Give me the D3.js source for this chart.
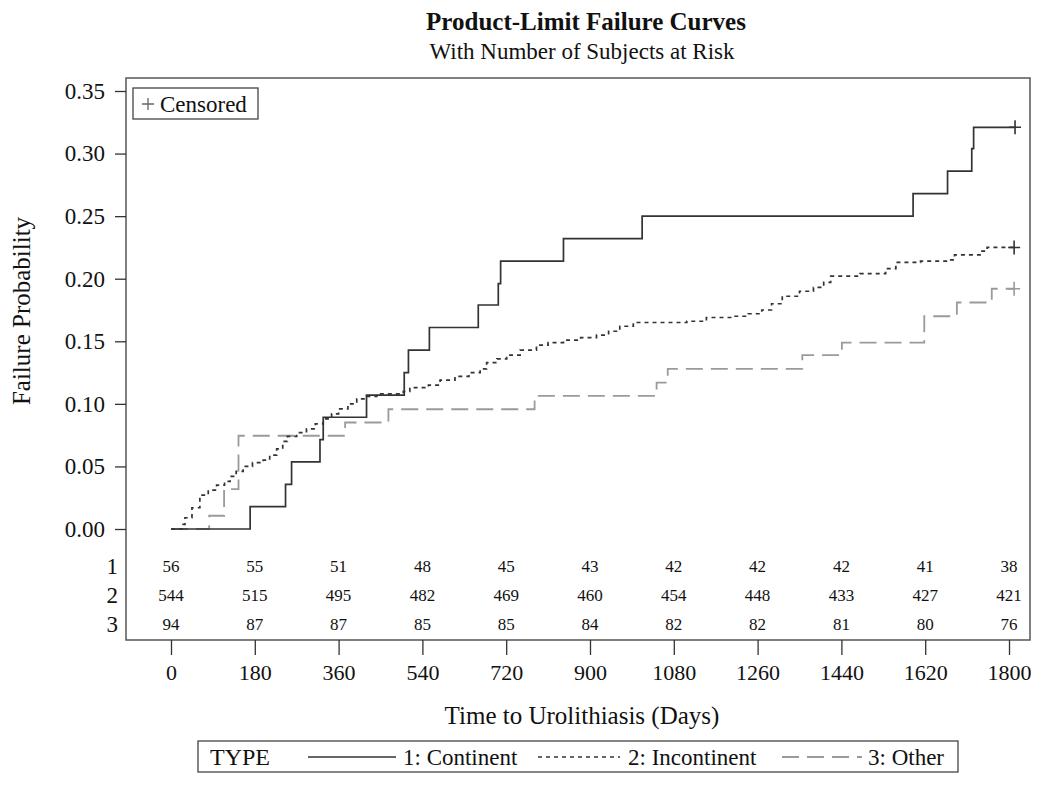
<!DOCTYPE html>
<html><head><meta charset="utf-8">
<script src="https://cdn.jsdelivr.net/npm/d3@7"></script>
<style>body{margin:0;background:#fff}svg{display:block}text{font-family:"Liberation Serif","Times New Roman",serif;fill:#111}</style>
</head><body><svg id="c" width="1050" height="785"></svg>
<script>
// ---- data ----
const xTicks = [0,180,360,540,720,900,1080,1260,1440,1620,1800];
const yTicks = [0,0.05,0.10,0.15,0.20,0.25,0.30,0.35];
const groups = ["1","2","3"];
const seriesNames = ["1: Continent","2: Incontinent","3: Other"];
const atRisk1 = [56,55,51,48,45,43,42,42,42,41,38];
const atRisk2 = [544,515,495,482,469,460,454,448,433,427,421];
const atRisk3 = [94,87,87,85,85,84,82,82,81,80,76];

const contTimes = [0,170,246,259,320,327,420,501,510,555,660,703,708,843,1012,1594,1668,1720,1724];
const contProb  = [0,0.0179,0.0357,0.0536,0.0714,0.0893,0.107,0.125,0.143,0.161,0.179,0.196,0.214,0.232,0.25,0.268,0.286,0.304,0.321];
const contCensor = 1813;

const incTimes = [0,26,30,45,62,80,98,115,127,140,155,175,198,212,227,240,250,270,291,310,327,345,360,380,399,420,442,499,513,553,578,610,640,664,678,700,721,750,785,810,843,880,914,940,964,993,1108,1150,1209,1240,1269,1290,1313,1350,1380,1402,1417,1480,1535,1557,1610,1668,1683,1742,1753];
const incProb  = [0,0.0037,0.009,0.017,0.027,0.031,0.035,0.038,0.042,0.046,0.050,0.053,0.055,0.059,0.064,0.070,0.074,0.077,0.080,0.084,0.088,0.092,0.096,0.100,0.104,0.106,0.108,0.110,0.113,0.115,0.119,0.122,0.125,0.128,0.133,0.136,0.139,0.143,0.147,0.149,0.151,0.153,0.155,0.158,0.162,0.165,0.166,0.169,0.170,0.172,0.175,0.180,0.186,0.190,0.193,0.197,0.202,0.204,0.208,0.213,0.214,0.215,0.219,0.222,0.225];
const incCensor = 1811;

const othTimes = [0,82,114,145,374,467,781,1043,1067,1356,1441,1618,1688,1763];
const othProb  = [0,0.0106,0.0319,0.0745,0.0851,0.0957,0.1064,0.117,0.128,0.139,0.149,0.170,0.181,0.192];
const othCensor = 1811;

// ---- layout ----
const svg = d3.select("#c");
const frame = {l:126, t:78, r:1030, b:640};
const x = d3.scaleLinear().domain([0,1800]).range([171,1009]);
const y = d3.scaleLinear().domain([0,0.35]).range([529,91]);
const frameCol = "#555";

// title
svg.append("text").attr("x",586).attr("y",30).attr("text-anchor","middle")
  .style("font-size","25px").style("font-weight","bold").text("Product-Limit Failure Curves");
svg.append("text").attr("x",582).attr("y",59).attr("text-anchor","middle")
  .style("font-size","23px").text("With Number of Subjects at Risk");

// frame
svg.append("rect").attr("x",frame.l).attr("y",frame.t).attr("width",frame.r-frame.l).attr("height",frame.b-frame.t)
  .attr("fill","none").attr("stroke",frameCol).attr("stroke-width",1.5);

// y axis
const yAxis = d3.axisLeft(y).tickValues(yTicks).tickFormat(d3.format(".2f")).tickSize(11).tickPadding(10);
const gy = svg.append("g").attr("transform",`translate(${frame.l},0)`).call(yAxis);
gy.select(".domain").remove();
gy.selectAll("line").attr("stroke","#333").attr("stroke-width",1.3);
gy.selectAll("text").style("font-size","23px").style("font-family","Liberation Serif").attr("fill","#111");

// x axis
const xAxis = d3.axisBottom(x).tickValues(xTicks).tickFormat(d3.format("d")).tickSize(15).tickPadding(9);
const gx = svg.append("g").attr("transform",`translate(0,${frame.b})`).call(xAxis);
gx.select(".domain").remove();
gx.selectAll("line").attr("stroke","#333").attr("stroke-width",1.3);
gx.selectAll("text").style("font-size","22px").style("font-family","Liberation Serif").attr("fill","#111");

svg.append("text").attr("x",582).attr("y",724).attr("text-anchor","middle").style("font-size","25px")
  .text("Time to Urolithiasis (Days)");
svg.append("text").attr("transform","translate(30,311) rotate(-90)").attr("text-anchor","middle").style("font-size","25px")
  .text("Failure Probability");

// at-risk table
const riskRows = [atRisk1, atRisk2, atRisk3];
const rowY = [566, 595, 624];
riskRows.forEach((row,i)=>{
  svg.append("text").attr("x",118).attr("y",rowY[i]).attr("text-anchor","end").attr("dy","0.35em")
    .style("font-size","23px").text(groups[i]);
  svg.selectAll(null).data(row).enter().append("text")
    .attr("x",(d,j)=>x(xTicks[j])).attr("y",rowY[i]).attr("dy","0.35em").attr("text-anchor","middle")
    .style("font-size","17px").text(d=>d);
});

// curves
const line = d3.line().x(d=>x(d[0])).y(d=>y(d[1])).curve(d3.curveStepAfter);
const styles = [
  {stroke:"#333", width:1.7, dash:null},
  {stroke:"#333", width:1.7, dash:"4,4"},
  {stroke:"#9a9a9a", width:1.8, dash:"17,8"}
];
const series = [
  {t:contTimes, p:contProb, c:contCensor},
  {t:incTimes, p:incProb, c:incCensor},
  {t:othTimes, p:othProb, c:othCensor}
];
[2,1,0].forEach(i=>{
  const s = series[i], st = styles[i];
  const pts = s.t.map((t,k)=>[t,s.p[k]]);
  pts.push([s.c, s.p[s.p.length-1]]);
  svg.append("path").attr("d",line(pts)).attr("fill","none").attr("stroke",st.stroke)
    .attr("stroke-width",st.width).attr("stroke-dasharray",st.dash);
  const cx = x(s.c), cy = y(s.p[s.p.length-1]);
  svg.append("path").attr("d",`M${cx-6},${cy}H${cx+6}M${cx},${cy-7}V${cy+7}`)
    .attr("stroke",st.stroke).attr("stroke-width",1.6);
});

// censored legend
svg.append("rect").attr("x",133).attr("y",88).attr("width",125).attr("height",31)
  .attr("fill","#fff").attr("stroke","#444").attr("stroke-width",1.3);
svg.append("path").attr("d","M142,104H154M148,98V110").attr("stroke","#666").attr("stroke-width",1.3);
svg.append("text").attr("x",160).attr("y",112).style("font-size","23px").text("Censored");

// type legend
svg.append("rect").attr("x",198).attr("y",741).attr("width",760).attr("height",31)
  .attr("fill","#fff").attr("stroke","#444").attr("stroke-width",1.3);
svg.append("text").attr("x",210).attr("y",765).style("font-size","24px").text("TYPE");
const legX = [{l0:308,l1:396,tx:403},{l0:538,l1:620,tx:628},{l0:782,l1:862,tx:868}];
legX.forEach((g,i)=>{
  const st = styles[i];
  svg.append("line").attr("x1",g.l0).attr("x2",g.l1).attr("y1",757).attr("y2",757)
    .attr("stroke",st.stroke).attr("stroke-width",st.width).attr("stroke-dasharray",st.dash);
  svg.append("text").attr("x",g.tx).attr("y",765).style("font-size","23px").text(seriesNames[i]);
});
</script></body></html>
